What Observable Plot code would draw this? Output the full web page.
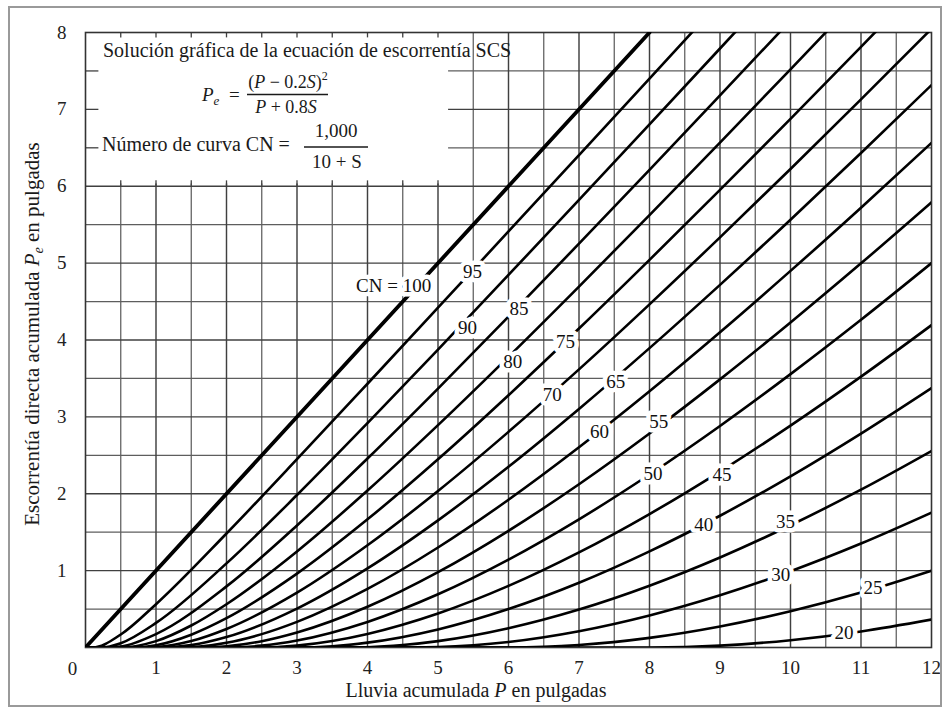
<!DOCTYPE html>
<html><head><meta charset="utf-8">
<script src="https://cdn.jsdelivr.net/npm/d3@7"></script>
<script src="https://cdn.jsdelivr.net/npm/@observablehq/plot@0.6"></script>
<style>
body{margin:0;background:#fff}
#chart{width:950px;height:713px;overflow:hidden}
</style>
</head><body><div id="chart"></div>
<script>
// Tick labels / grid positions
const xTickValues = [1,2,3,4,5,6,7,8,9,10,11,12];
const yTickValues = [1,2,3,4,5,6,7,8];
const xMajorGrid = [1,2,3,4,5,6,7,8,9,10,11];
const xHalfGrid = [0.5,1.5,2.5,3.5,4.5,5.5,6.5,7.5,8.5,9.5,10.5,11.5];
const yMajorGrid = [1,2,3,4,5,6,7];
const yHalfGrid = [0.5,1.5,2.5,3.5,4.5,5.5,6.5,7.5];
const boxTopTicks = [0.5,1,1.5,2,2.5,3,3.5,4,4.5,5];
const boxLeftTicks = [6.5,7,7.5];

// Curve numbers
const curveNumbers = [20,25,30,35,40,45,50,55,60,65,70,75,80,85,90,95,100];

// Read curves: [P (rain, in), Pe (runoff, in)]
const cn100 = [[0,0],[8,8]];
const cn95 = [[0,0],[0.105,0],[0.5,0.169],[1,0.563],[2,1.483],[3,2.449],[4,3.431],[5,4.42],[6,5.412],[7,6.406],[8,7.401],[9,8.398]];
const cn90 = [[0,0],[0.222,0],[0.5,0.056],[1,0.32],[2,1.094],[3,1.984],[4,2.919],[5,3.876],[6,4.846],[7,5.823],[8,6.806],[9,7.792],[10,8.78]];
const cn85 = [[0,0],[0.353,0],[0.5,0.011],[1,0.174],[2,0.795],[3,1.588],[4,2.458],[5,3.368],[6,4.303],[7,5.253],[8,6.213],[9,7.182],[10,8.155]];
const cn80 = [[0,0],[0.5,0],[1,0.083],[1.5,0.286],[2,0.563],[3,1.25],[4,2.042],[5,2.893],[6,3.781],[7,4.694],[8,5.625],[9,6.568],[10,7.521],[11,8.481]];
const cn75 = [[0,0],[0.667,0],[1,0.03],[1.5,0.167],[2,0.381],[3,0.961],[4,1.667],[5,2.449],[6,3.282],[7,4.149],[8,5.042],[9,5.952],[10,6.877],[11,7.813],[12,8.758]];
const cn70 = [[0,0],[0.857,0],[1,0.005],[1.5,0.084],[2,0.241],[3,0.714],[4,1.33],[5,2.036],[6,2.805],[7,3.618],[8,4.464],[9,5.335],[10,6.225],[11,7.13],[12,8.048]];
const cn65 = [[0,0],[1.077,0],[1.5,0.031],[2,0.135],[3,0.506],[4,1.029],[5,1.654],[6,2.351],[7,3.103],[8,3.894],[9,4.717],[10,5.565],[11,6.433],[12,7.316]];
const cn60 = [[0,0],[1.333,0],[2,0.061],[2.5,0.174],[3,0.333],[4,0.762],[5,1.301],[6,1.922],[7,2.604],[8,3.333],[9,4.101],[10,4.899],[11,5.721],[12,6.564]];
const cn55 = [[0,0],[1.636,0],[2,0.016],[2.5,0.082],[3,0.195],[4,0.53],[5,0.98],[6,1.518],[7,2.124],[8,2.784],[9,3.488],[10,4.228],[11,4.997],[12,5.791]];
const cn50 = [[0,0],[2,0],[2.5,0.024],[3,0.091],[4,0.333],[5,0.692],[6,1.143],[7,1.667],[8,2.25],[9,2.882],[10,3.556],[11,4.263],[12,5.0]];
const cn45 = [[0,0],[2.444,0],[3,0.024],[3.5,0.084],[4,0.176],[5,0.442],[6,0.801],[7,1.237],[8,1.736],[9,2.289],[10,2.886],[11,3.523],[12,4.193]];
const cn40 = [[0,0],[3,0],[3.5,0.016],[4,0.063],[5,0.235],[6,0.5],[7,0.842],[8,1.25],[9,1.714],[10,2.227],[11,2.783],[12,3.375]];
const cn35 = [[0,0],[3.714,0],[4,0.004],[4.5,0.032],[5,0.083],[6,0.251],[7,0.494],[8,0.804],[9,1.171],[10,1.59],[11,2.053],[12,2.556]];
const cn30 = [[0,0],[4.667,0],[5,0.005],[5.5,0.029],[6,0.072],[7,0.212],[8,0.417],[9,0.679],[10,0.992],[11,1.352],[12,1.754]];
const cn25 = [[0,0],[6,0],[6.5,0.008],[7,0.032],[8,0.125],[9,0.273],[10,0.471],[11,0.714],[12,1.0]];
const cn20 = [[0,0],[8,0],[8.5,0.006],[9,0.024],[10,0.095],[11,0.209],[12,0.364]];

// Curve labels (position)
const labelText = ["CN = 100","95","90","85","80","75","70","65","60","55","50","45","40","35","30","25","20"];
const labelX = [4.37,5.49,5.42,6.15,6.06,6.81,6.62,7.52,7.29,8.13,8.05,9.03,8.77,9.93,9.86,11.17,10.76];
const labelY = [4.71,4.88,4.16,4.41,3.71,3.97,3.28,3.46,2.80,2.94,2.26,2.24,1.59,1.63,0.94,0.77,0.19];

// Build tidy tables
const curveSeries = [cn20,cn25,cn30,cn35,cn40,cn45,cn50,cn55,cn60,cn65,cn70,cn75,cn80,cn85,cn90,cn95,cn100];
const rows = [];
curveSeries.forEach((pts, i) => pts.forEach(([P, Pe]) => rows.push({cn: curveNumbers[i], P, Pe})));
const labels = labelText.map((t, i) => ({t, x: labelX[i], y: labelY[i]}));

const serif = "'Liberation Serif', 'Times New Roman', serif";

const svg = Plot.plot({
  width: 950, height: 713,
  marginLeft: 85, marginRight: 19, marginTop: 32, marginBottom: 66,
  style: {fontFamily: serif, fontSize: "19px", color: "#222", background: "white", overflow: "visible"},
  x: {domain: [0, 12], ticks: xTickValues, tickSize: 0, tickPadding: 13, label: null},
  y: {domain: [0, 8], ticks: yTickValues, tickSize: 0, tickPadding: 19, label: null},
  marks: [
    Plot.ruleX(xHalfGrid, {stroke: "#5e5e5e", strokeWidth: 1.25}),
    Plot.ruleY(yHalfGrid, {stroke: "#5e5e5e", strokeWidth: 1.25}),
    Plot.ruleX(xMajorGrid, {stroke: "#404040", strokeWidth: 1.45}),
    Plot.ruleY(yMajorGrid, {stroke: "#404040", strokeWidth: 1.45}),
    Plot.rect([{x1: 0, x2: 5.15, y1: 6.03, y2: 8}], {x1: "x1", x2: "x2", y1: "y1", y2: "y2", fill: "white"}),
    Plot.ruleX(boxTopTicks, {x: d => d, y1: 7.93, y2: 8, stroke: "#404040", strokeWidth: 1.3}),
    Plot.ruleX(boxTopTicks, {x: d => d, y1: 6, y2: 6.07, stroke: "#404040", strokeWidth: 1.3}),
    Plot.ruleY(boxLeftTicks, {y: d => d, x1: 0, x2: 0.19, stroke: "#404040", strokeWidth: 1.3}),
    Plot.frame({stroke: "#333", strokeWidth: 1.6}),
    Plot.line(rows.filter(d => d.cn < 100), {x: "P", y: "Pe", z: "cn", curve: "monotone-x", stroke: "#000", strokeWidth: 2.6, clip: true}),
    Plot.line(rows.filter(d => d.cn === 100), {x: "P", y: "Pe", z: "cn", stroke: "#000", strokeWidth: 3.8, clip: true}),
    Plot.text(labels, {x: "x", y: "y", text: "t", fill: "#111", stroke: "white", strokeWidth: 9, fontSize: 19}),
    Plot.text(["0"], {x: () => 0, y: () => 0, dx: -13, dy: 21, fontSize: 19, fill: "#222"})
  ]
});
document.getElementById("chart").appendChild(svg);

// Annotations: formula block, axis titles, outer frame
const s = d3.select(svg);
const g = s.append("g").attr("font-family", serif).attr("fill", "#1a1a1a").attr("text-anchor", "start");

g.append("rect").attr("x", 9).attr("y", 7).attr("width", 932).attr("height", 699)
  .attr("fill", "none").attr("stroke", "#9a9a9a").attr("stroke-width", 2);

g.append("text").attr("x", 103).attr("y", 57).attr("font-size", 20).attr("text-anchor", "start")
  .text("Solución gráfica de la ecuación de escorrentía SCS");

// Pe = (P - 0.2S)^2 / (P + 0.8S)
const t1 = g.append("text").attr("x", 202).attr("y", 101).attr("font-size", 19).attr("text-anchor", "start");
t1.append("tspan").attr("font-style", "italic").text("P");
t1.append("tspan").attr("font-style", "italic").attr("font-size", 13).attr("dy", 4).text("e");
t1.append("tspan").attr("dy", -4).text("  =");
const num1 = g.append("text").attr("x", 288).attr("y", 88).attr("font-size", 18).attr("text-anchor", "middle");
num1.append("tspan").text("(");
num1.append("tspan").attr("font-style", "italic").text("P");
num1.append("tspan").text(" − 0.2");
num1.append("tspan").attr("font-style", "italic").text("S");
num1.append("tspan").text(")");
num1.append("tspan").attr("font-size", 12).attr("dy", -8).text("2");
g.append("line").attr("x1", 247).attr("x2", 328).attr("y1", 94.5).attr("y2", 94.5).attr("stroke", "#1a1a1a").attr("stroke-width", 1.3);
const den1 = g.append("text").attr("x", 286).attr("y", 113).attr("font-size", 18).attr("text-anchor", "middle");
den1.append("tspan").attr("font-style", "italic").text("P");
den1.append("tspan").text(" + 0.8");
den1.append("tspan").attr("font-style", "italic").text("S");

// CN = 1000 / (10 + S)
g.append("text").attr("x", 102).attr("y", 151).attr("font-size", 20).attr("text-anchor", "start").text("Número de curva CN =");
g.append("text").attr("x", 336).attr("y", 137).attr("font-size", 19).attr("text-anchor", "middle").text("1,000");
g.append("line").attr("x1", 304).attr("x2", 368).attr("y1", 147).attr("y2", 147).attr("stroke", "#1a1a1a").attr("stroke-width", 1.3);
g.append("text").attr("x", 337).attr("y", 168).attr("font-size", 19).attr("text-anchor", "middle").text("10 + S");

// Axis titles
const xt = g.append("text").attr("x", 476).attr("y", 697).attr("font-size", 20).attr("text-anchor", "middle");
xt.append("tspan").text("Lluvia acumulada ");
xt.append("tspan").attr("font-style", "italic").text("P");
xt.append("tspan").text(" en pulgadas");

const yt = g.append("text").attr("transform", "translate(39,334) rotate(-90)").attr("font-size", 21).attr("text-anchor", "middle");
yt.append("tspan").text("Escorrentía directa acumulada ");
yt.append("tspan").attr("font-style", "italic").text("P");
yt.append("tspan").attr("font-style", "italic").attr("font-size", 14).attr("dy", 4).text("e");
yt.append("tspan").attr("dy", -4).text(" en pulgadas");
</script>
</body></html>
